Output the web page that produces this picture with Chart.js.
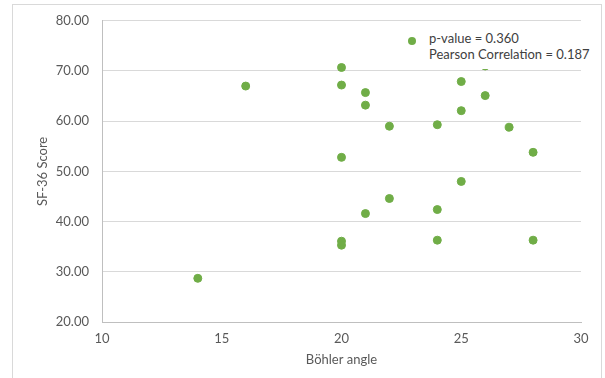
<!DOCTYPE html>
<html>
<head>
<meta charset="utf-8">
<script src="https://cdn.jsdelivr.net/npm/chart.js@4/dist/chart.umd.min.js"></script>
<style>
    html, body { margin: 0; padding: 0; background: #fff; overflow: hidden; }
    #wrap { position: relative; width: 605px; height: 378px; }
    #frame { position: absolute; left: 12px; top: 4px; width: 590px; height: 400px; border: 1px solid #d9d9d9; box-sizing: border-box; }
    #legend {
        position: absolute; left: 400px; top: 22px; width: 200px; height: 47px;
        background: #fff; font-family: Lato, sans-serif; font-size: 13px; color: #404040;
    }
    #legend .dot { position: absolute; left: 8px; top: 15px; width: 8px; height: 8px; border-radius: 50%; background: #70ad47; }
    #legend .txt { position: absolute; left: 29px; top: 8px; line-height: 16px; white-space: nowrap; }
</style>
</head>
<body>
<div id="wrap">
    <div id="frame"></div>
    <canvas id="scatterChart" width="605" height="378"></canvas>
    <div id="legend">
        <div class="dot"></div>
        <div class="txt">p-value = 0.360<br>Pearson Correlation = 0.187</div>
    </div>
</div>
<script>
// Dane wykresu
const bohlerAngles = [14, 16, 20, 20, 20, 20, 20, 21, 21, 21, 22, 22, 24, 24, 24, 25, 25, 25, 26, 26, 27, 28, 28];
const sf36Scores = [28.7, 67.0, 70.7, 67.2, 52.8, 36.1, 35.3, 65.7, 63.2, 41.6, 59.0, 44.6, 59.3, 42.4, 36.3, 67.9, 62.1, 48.0, 65.1, 71.0, 58.8, 53.8, 36.3];
const xTicks = [10, 15, 20, 25, 30];
const yTicks = [20, 30, 40, 50, 60, 70, 80];

const points = bohlerAngles.map((x, i) => ({ x: x, y: sf36Scores[i] }));

const tickFont = { family: 'Lato', size: 13 };

new Chart(document.getElementById('scatterChart'), {
    type: 'scatter',
    data: {
        datasets: [{
            label: 'SF-36',
            data: points,
            backgroundColor: '#70ad47',
            borderColor: '#70ad47',
            pointRadius: 4,
            pointHoverRadius: 4
        }]
    },
    options: {
        responsive: false,
        animation: false,
        layout: { padding: { left: 0, right: 24, top: 20, bottom: 0 } },
        plugins: {
            legend: { display: false },
            tooltip: { enabled: false }
        },
        scales: {
            x: {
                type: 'linear',
                min: xTicks[0],
                max: xTicks[xTicks.length - 1],
                afterBuildTicks: axis => { axis.ticks = xTicks.map(v => ({ value: v })); },
                afterFit: axis => { axis.height = 56; },
                grid: { display: false, drawTicks: false },
                border: { color: '#bfbfbf' },
                ticks: { font: tickFont, color: '#595959', padding: 9 },
                title: {
                    display: true,
                    text: 'Böhler angle',
                    font: { family: 'Lato', size: 13 },
                    color: '#595959',
                    padding: { top: 0, bottom: 10 }
                }
            },
            y: {
                type: 'linear',
                min: yTicks[0],
                max: yTicks[yTicks.length - 1],
                afterBuildTicks: axis => { axis.ticks = yTicks.map(v => ({ value: v })); },
                afterFit: axis => { axis.width = 102; },
                grid: { color: '#d9d9d9', drawTicks: false },
                border: { color: '#bfbfbf' },
                ticks: {
                    font: tickFont,
                    color: '#595959',
                    padding: 13,
                    callback: v => Number(v).toFixed(2)
                },
                title: {
                    display: true,
                    text: 'SF-36 Score',
                    font: { family: 'Lato', size: 13 },
                    color: '#595959',
                    padding: { top: 35, bottom: 0 }
                }
            }
        }
    }
});
</script>
</body>
</html>
